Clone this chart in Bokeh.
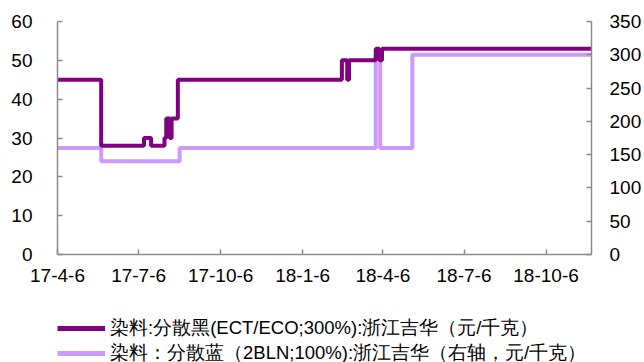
import pandas as pd
from bokeh.plotting import figure
from bokeh.layouts import column
from bokeh.models import (Range1d, LinearAxis, FixedTicker, CustomJSTickFormatter,
                          Legend, LegendItem, ColumnDataSource)
from bokeh.embed import file_html
from bokeh.resources import INLINE

# ---- data ----
black_dates = ["2017-04-06", "2017-05-25", "2017-07-12", "2017-07-20", "2017-08-04",
               "2017-08-06", "2017-08-10", "2017-08-12", "2017-08-19", "2018-02-19",
               "2018-02-25", "2018-02-27", "2018-03-29", "2018-04-02", "2018-04-05",
               "2018-11-26"]
black_values = [45, 28, 30, 28, 30, 35, 30, 35, 45, 50, 45, 50, 53, 50, 53, 53]

blue_dates = ["2017-04-06", "2017-05-25", "2017-08-21", "2018-03-29", "2018-04-03",
              "2018-05-09", "2018-11-26"]
blue_values = [160, 140, 160, 300, 160, 300, 300]

tick_dates = ["2017-04-06", "2017-07-06", "2017-10-06", "2018-01-06",
              "2018-04-06", "2018-07-06", "2018-10-06"]
left_ticks = [0, 10, 20, 30, 40, 50, 60]
right_ticks = [0, 50, 100, 150, 200, 250, 300, 350]
x_start, x_end = "2017-04-06", "2018-11-26"

label_black = "染料:分散黑(ECT/ECO;300%):浙江吉华（元/千克）"
label_blue = "染料：分散蓝（2BLN;100%):浙江吉华（右轴，元/千克）"


def ms(d):
    return pd.Timestamp(d).timestamp() * 1000.0


FONT = "Liberation Sans"
FS = "19px"
AXIS_COLOR = "#8a8a8a"
DARK = "#800080"
LIGHT = "#CC99FF"

p = figure(width=644, height=300, x_axis_type="datetime",
           output_backend="svg", toolbar_location=None,
           x_range=Range1d(ms(x_start), ms(x_end)),
           y_range=Range1d(0, 60),
           min_border_left=57, min_border_right=51,
           min_border_top=21, min_border_bottom=46)
p.extra_y_ranges = {"right": Range1d(0, 350)}
p.outline_line_color = None
p.xgrid.visible = False
p.ygrid.visible = False

src_black = ColumnDataSource(dict(x=[ms(d) for d in black_dates], y=black_values))
src_blue = ColumnDataSource(dict(x=[ms(d) for d in blue_dates], y=blue_values))

p.step("x", "y", source=src_blue, mode="after", line_color=LIGHT,
       line_width=4, y_range_name="right")
p.step("x", "y", source=src_black, mode="after", line_color=DARK, line_width=4)

# x axis
xa = p.xaxis[0]
xa.ticker = FixedTicker(ticks=[ms(d) for d in tick_dates])
xa.formatter = CustomJSTickFormatter(code="""
const d = new Date(tick);
return String(d.getUTCFullYear() % 100) + "-" + (d.getUTCMonth() + 1) + "-" + d.getUTCDate();
""")
xa.major_label_standoff = 14

# left axis
ya = p.yaxis[0]
ya.ticker = FixedTicker(ticks=left_ticks)
ya.major_label_standoff = 25

# right axis
ra = LinearAxis(y_range_name="right", ticker=FixedTicker(ticks=right_ticks))
ra.major_label_standoff = 18
p.add_layout(ra, "right")

for ax in [xa, ya, ra]:
    ax.axis_line_color = AXIS_COLOR
    ax.axis_line_width = 1.5
    ax.major_tick_line_color = AXIS_COLOR
    ax.major_tick_line_width = 1.5
    ax.major_tick_in = 5
    ax.major_tick_out = 0
    ax.minor_tick_line_color = None
    ax.major_label_text_font = FONT
    ax.major_label_text_font_size = FS
    ax.major_label_text_color = "#000000"

# ---- legend strip (same series, legend only; data lies outside its ranges) ----
lg = figure(width=644, height=62, output_backend="svg", toolbar_location=None,
            x_axis_location=None, y_axis_location=None,
            x_range=Range1d(0, 1), y_range=Range1d(0, 1),
            min_border_left=0, min_border_right=0,
            min_border_top=0, min_border_bottom=0)
lg.outline_line_color = None
lg.xgrid.visible = False
lg.ygrid.visible = False
lr_black = lg.step("x", "y", source=src_black, mode="after", line_color=DARK, line_width=5)
lr_blue = lg.step("x", "y", source=src_blue, mode="after", line_color=LIGHT, line_width=5)

legend = Legend(items=[LegendItem(label=label_black, renderers=[lr_black]),
                       LegendItem(label=label_blue, renderers=[lr_blue])],
                location=(0, -3), orientation="vertical",
                glyph_width=48, glyph_height=20, label_height=20,
                label_standoff=5, spacing=0, padding=0, margin=0,
                label_text_font=FONT, label_text_font_size="18.5px",
                label_text_color="#000000",
                background_fill_alpha=0, border_line_color=None)
lg.add_layout(legend, "center")

layout = column(p, lg, spacing=0)
open("out.html", "w").write(file_html(layout, INLINE))
